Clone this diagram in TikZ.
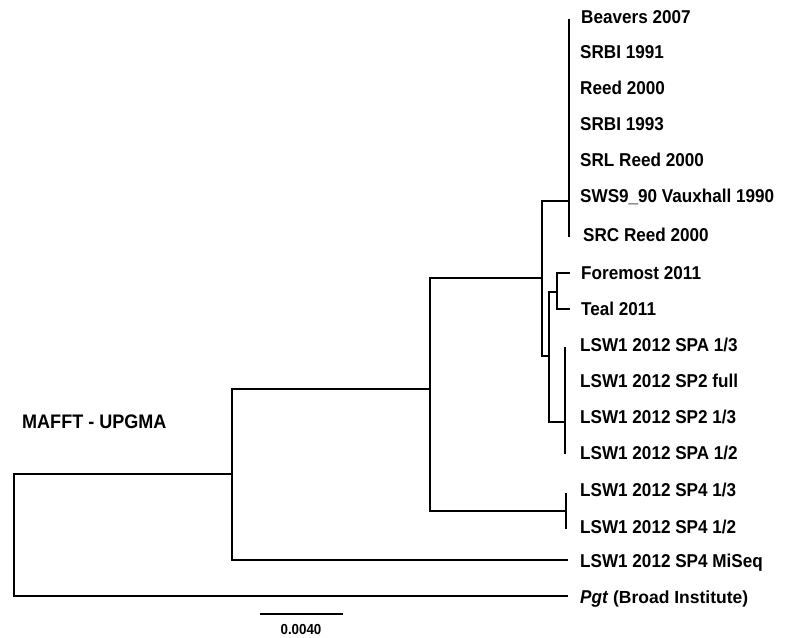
\documentclass[tikz,border=0pt]{standalone}
\usepackage{fontspec}
\setmainfont{Liberation Sans}[FakeStretch=0.92]
\newfontfamily\largo{Liberation Sans}

\begin{document}
\begin{tikzpicture}[x=1bp, y=-1bp,
        ramo/.style={line width=2.7bp, line join=miter},
        folha/.style={anchor=base west, inner sep=0pt, yshift=-6.6bp,
            font=\fontsize{18.6bp}{22bp}\selectfont\bfseries}]

        \useasboundingbox (0,0) rectangle (788,638);

        % nos internos
        \coordinate (raiz) at (14,535);
        \coordinate (nA) at (232,474);
        \coordinate (nB) at (430,389);
        \coordinate (nC) at (542,278);
        \coordinate (nD) at (566,511);
        \coordinate (nE) at (569,201);
        \coordinate (nF) at (549,356);
        \coordinate (nG) at (557,292);
        \coordinate (nH) at (565,422);

        % pontas
        \coordinate (eTopo) at (569,19);  \coordinate (eBase) at (569,237);
        \coordinate (hTopo) at (565,347); \coordinate (hBase) at (565,454);
        \coordinate (dTopo) at (566,493); \coordinate (dBase) at (566,529);
        \coordinate (tForemost) at (570,273);
        \coordinate (tTeal) at (570,309);
        \coordinate (tMiseq) at (568,560);
        \coordinate (tPgt) at (568,596);

        % ramos
        \draw[ramo] (raiz) |- (nA);  \draw[ramo] (raiz) |- (tPgt);
        \draw[ramo] (nA) |- (nB);    \draw[ramo] (nA) |- (tMiseq);
        \draw[ramo] (nB) |- (nC);    \draw[ramo] (nB) |- (nD);
        \draw[ramo] (nC) |- (nE);    \draw[ramo] (nC) |- (nF);
        \draw[ramo] (nF) |- (nG);    \draw[ramo] (nF) |- (nH);
        \draw[ramo] (nG) |- (tForemost); \draw[ramo] (nG) |- (tTeal);

        % barras dos grupos
        \draw[ramo] (eTopo) -- (eBase);
        \draw[ramo] (hTopo) -- (hBase);
        \draw[ramo] (dTopo) -- (dBase);

        % rotulos das folhas
        \node[folha] (beavers) at (581,17) {Beavers 2007};
        \node[folha] (srbiA) at (580,52) {SRBI 1991};
        \node[folha] (reed) at (580,88) {Reed 2000};
        \node[folha] (srbiB) at (580,124) {SRBI 1993};
        \node[folha] (srl) at (580,160) {SRL Reed 2000};
        \node[folha] (sws) at (580,196) {SWS9\_90 Vauxhall 1990};
        \node[folha] (src) at (583,235) {SRC Reed 2000};
        \node[folha] (foremost) at (581,273) {Foremost 2011};
        \node[folha] (teal) at (581,309) {Teal 2011};
        \node[folha] (spaA) at (580,345) {LSW1 2012 SPA 1/3};
        \node[folha] (spFull) at (580,381) {LSW1 2012 SP2 full};
        \node[folha] (spTerco) at (580,417) {LSW1 2012 SP2 1/3};
        \node[folha] (spaB) at (580,453) {LSW1 2012 SPA 1/2};
        \node[folha] (spQa) at (580,490) {LSW1 2012 SP4 1/3};
        \node[folha] (spQb) at (580,527) {LSW1 2012 SP4 1/2};
        \node[folha] (miseq) at (580,561) {LSW1 2012 SP4 MiSeq};
        \node[folha] (pgt) at (580,597) {\itshape Pgt\/ \upshape\largo\fontsize{17.5bp}{20bp}\selectfont(Broad Institute)};

        % titulo
        \node[folha, font=\fontsize{19.6bp}{23bp}\selectfont\bfseries] (titulo) at (22,422) {MAFFT - UPGMA};

        % escala
        \coordinate (escA) at (260,614);
        \coordinate (escB) at (343,614);
        \draw[ramo] (escA) -- (escB);
        \node[inner sep=0pt, font=\fontsize{14.5bp}{17bp}\selectfont\bfseries] (escRotulo) at (301,630) {0.0040};

\end{tikzpicture}
\end{document}
